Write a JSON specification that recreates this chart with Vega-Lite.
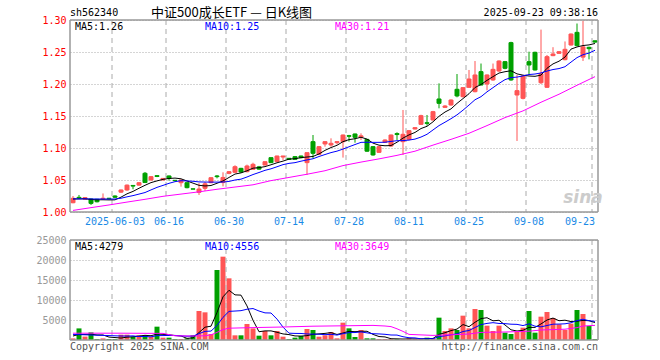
{
"$schema":"https://vega.github.io/schema/vega-lite/v6.json",
"width":528,"height":320,
"autosize":{"type":"none"},
"padding":{"left":70,"top":20,"right":62,"bottom":20},
"background":"white",
"config":{"view":{"stroke":null},"font":"DejaVu Sans Mono","text":{"font":"DejaVu Sans Mono","fontSize":10}},
"datasets":{"k":[
{"d":"2025-05-22","o":1.0145,"h":1.025,"l":1.0136,"c":1.0214,"v":400,"ma5":1.0203,"ma10":1.0205,"ma30":1.0025,"vma5":1000,"vma10":1400,"vma30":1700},
{"d":"2025-05-23","o":1.0229,"h":1.0266,"l":1.0208,"c":1.0219,"v":2900,"ma5":1.0205,"ma10":1.0205,"vma5":1400,"vma10":1350},
{"d":"2025-05-26","o":1.02,"h":1.023,"l":1.019,"c":1.0225,"v":850,"ma5":1.0207,"ma10":1.0205,"vma5":1400,"vma10":1300},
{"d":"2025-05-27","o":1.0203,"h":1.021,"l":1.011,"c":1.0135,"v":1900,"ma5":1.0195,"ma10":1.0204,"ma30":1.0068,"vma5":1450,"vma10":1250},
{"d":"2025-05-28","o":1.0198,"h":1.0205,"l":1.015,"c":1.016,"v":250,"ma5":1.0191,"ma10":1.0203,"vma5":1260,"vma10":1200},
{"d":"2025-05-29","o":1.0205,"h":1.029,"l":1.02,"c":1.0215,"v":400,"ma5":1.0191,"ma10":1.0203,"vma5":1260,"vma10":1150},
{"d":"2025-05-30","o":1.0215,"h":1.022,"l":1.02,"c":1.0208,"v":250,"ma5":1.0189,"ma10":1.0202,"ma30":1.011,"vma5":730,"vma10":1100},
{"d":"2025-06-03","o":1.025,"h":1.026,"l":1.022,"c":1.023,"v":250,"ma5":1.019,"ma10":1.0203,"vma5":610,"vma10":1050},
{"d":"2025-06-04","o":1.031,"h":1.035,"l":1.03,"c":1.0344,"v":1333,"ma5":1.0232,"ma10":1.0215,"vma5":497,"vma10":1000,"vma30":1700},
{"d":"2025-06-05","o":1.0344,"h":1.043,"l":1.033,"c":1.042,"v":1333,"ma5":1.0284,"ma10":1.0237,"ma30":1.0155,"vma5":713,"vma10":987},
{"d":"2025-06-06","o":1.0415,"h":1.0422,"l":1.0355,"c":1.0405,"v":833,"ma5":1.0322,"ma10":1.0256,"vma5":800,"vma10":1030},
{"d":"2025-06-09","o":1.042,"h":1.0465,"l":1.041,"c":1.0458,"v":1167,"ma5":1.0371,"ma10":1.028,"vma5":983,"vma10":857},
{"d":"2025-06-10","o":1.0605,"h":1.0625,"l":1.0455,"c":1.046,"v":1167,"ma5":1.0417,"ma10":1.0304,"ma30":1.0198,"vma5":1167,"vma10":888},
{"d":"2025-06-11","o":1.05,"h":1.056,"l":1.049,"c":1.0552,"v":833,"ma5":1.0459,"ma10":1.0345,"vma5":1067,"vma10":782},
{"d":"2025-06-12","o":1.0568,"h":1.0575,"l":1.0545,"c":1.0555,"v":3333,"ma5":1.0486,"ma10":1.0385,"vma5":1467,"vma10":1090},
{"d":"2025-06-13","o":1.05,"h":1.053,"l":1.0495,"c":1.0525,"v":583,"ma5":1.051,"ma10":1.0416,"ma30":1.0245,"vma5":1417,"vma10":1108,"vma30":1650},
{"d":"2025-06-16","o":1.0563,"h":1.057,"l":1.049,"c":1.0526,"v":583,"ma5":1.0524,"ma10":1.0448,"vma5":1300,"vma10":1142},
{"d":"2025-06-17","o":1.0495,"h":1.05,"l":1.048,"c":1.049,"v":250,"ma5":1.053,"ma10":1.0474,"vma5":1116,"vma10":1142,"vma30":1050},
{"d":"2025-06-18","o":1.0458,"h":1.0505,"l":1.0396,"c":1.05,"v":250,"ma5":1.0519,"ma10":1.0489,"ma30":1.028,"vma5":1000,"vma10":1033},
{"d":"2025-06-19","o":1.0458,"h":1.046,"l":1.037,"c":1.038,"v":417,"ma5":1.0484,"ma10":1.0485,"vma5":417,"vma10":942},
{"d":"2025-06-20","o":1.0362,"h":1.0365,"l":1.0355,"c":1.0357,"v":1167,"ma5":1.0451,"ma10":1.048,"vma5":533,"vma10":975,"vma30":1000},
{"d":"2025-06-23","o":1.0307,"h":1.045,"l":1.0266,"c":1.0359,"v":7250,"ma5":1.0417,"ma10":1.047,"ma30":1.0315,"vma5":1867,"vma10":1583},
{"d":"2025-06-24","o":1.037,"h":1.047,"l":1.033,"c":1.044,"v":6917,"ma5":1.0407,"ma10":1.0468,"vma5":3200,"vma10":2158,"vma30":1050},
{"d":"2025-06-25","o":1.0458,"h":1.054,"l":1.045,"c":1.0536,"v":1500,"ma5":1.0414,"ma10":1.0467,"vma5":3450,"vma10":2225,"vma30":1300},
{"d":"2025-06-26","o":1.0563,"h":1.0578,"l":1.0526,"c":1.0552,"v":17500,"ma5":1.0449,"ma10":1.0467,"ma30":1.0355,"vma5":6867,"vma10":3642,"vma30":1900},
{"d":"2025-06-27","o":1.046,"h":1.062,"l":1.04,"c":1.054,"v":20833,"ma5":1.0485,"ma10":1.0468,"vma5":10800,"vma10":5667,"vma30":2600},
{"d":"2025-06-30","o":1.0604,"h":1.064,"l":1.059,"c":1.063,"v":15417,"ma5":1.054,"ma10":1.0478,"vma5":12433,"vma10":7150,"vma30":2950},
{"d":"2025-07-01","o":1.062,"h":1.073,"l":1.0615,"c":1.0708,"v":1167,"ma5":1.0593,"ma10":1.05,"ma30":1.039,"vma5":11283,"vma10":7242},
{"d":"2025-07-02","o":1.0682,"h":1.069,"l":1.061,"c":1.0625,"v":1167,"ma5":1.0611,"ma10":1.0513,"vma5":11217,"vma10":7334},
{"d":"2025-07-03","o":1.063,"h":1.074,"l":1.062,"c":1.0719,"v":4000,"ma5":1.0644,"ma10":1.0547,"vma5":8517,"vma10":7692},
{"d":"2025-07-04","o":1.0667,"h":1.077,"l":1.066,"c":1.0745,"v":2900,"ma5":1.0685,"ma10":1.0585,"ma30":1.0425,"vma5":4930,"vma10":7865,"vma30":3100},
{"d":"2025-07-07","o":1.0705,"h":1.072,"l":1.066,"c":1.067,"v":1083,"ma5":1.0693,"ma10":1.0617,"vma5":2063,"vma10":7248},
{"d":"2025-07-08","o":1.0734,"h":1.079,"l":1.073,"c":1.0786,"v":2250,"ma5":1.0709,"ma10":1.0651,"vma5":2280,"vma10":6782},
{"d":"2025-07-09","o":1.0849,"h":1.085,"l":1.0765,"c":1.0771,"v":1167,"ma5":1.0738,"ma10":1.0675,"ma30":1.049,"vma5":2280,"vma10":6748},
{"d":"2025-07-10","o":1.0786,"h":1.088,"l":1.078,"c":1.0875,"v":2250,"ma5":1.0769,"ma10":1.0707,"vma5":1930,"vma10":5223},
{"d":"2025-07-11","o":1.0859,"h":1.0878,"l":1.0813,"c":1.0875,"v":833,"ma5":1.0795,"ma10":1.074,"vma5":1517,"vma10":3223,"vma30":3250},
{"d":"2025-07-14","o":1.0839,"h":1.084,"l":1.082,"c":1.0823,"v":250,"ma5":1.0826,"ma10":1.076,"ma30":1.054,"vma5":1350,"vma10":1707},
{"d":"2025-07-15","o":1.0865,"h":1.087,"l":1.082,"c":1.0823,"v":583,"ma5":1.0833,"ma10":1.0771,"vma5":1017,"vma10":1648},
{"d":"2025-07-16","o":1.0875,"h":1.088,"l":1.084,"c":1.0849,"v":1000,"ma5":1.0849,"ma10":1.0794,"vma5":983,"vma10":1632},
{"d":"2025-07-17","o":1.0771,"h":1.093,"l":1.0578,"c":1.0927,"v":2750,"ma5":1.0859,"ma10":1.0814,"ma30":1.059,"vma5":1083,"vma10":1507},
{"d":"2025-07-18","o":1.1099,"h":1.1203,"l":1.0839,"c":1.0917,"v":2500,"ma5":1.0868,"ma10":1.0832,"vma5":1417,"vma10":1467,"vma30":3450},
{"d":"2025-07-21","o":1.0901,"h":1.103,"l":1.089,"c":1.1021,"v":833,"ma5":1.0907,"ma10":1.0867,"vma5":1533,"vma10":1442},
{"d":"2025-07-22","o":1.1063,"h":1.1109,"l":1.1021,"c":1.1099,"v":1167,"ma5":1.0963,"ma10":1.0898,"ma30":1.0645,"vma5":1650,"vma10":1333},
{"d":"2025-07-23","o":1.1047,"h":1.1151,"l":1.1021,"c":1.1073,"v":2000,"ma5":1.1007,"ma10":1.0928,"vma5":1850,"vma10":1417},
{"d":"2025-07-24","o":1.1083,"h":1.1109,"l":1.1057,"c":1.1099,"v":417,"ma5":1.1042,"ma10":1.0951,"vma5":1383,"vma10":1233},
{"d":"2025-07-25","o":1.1099,"h":1.121,"l":1.085,"c":1.1203,"v":4333,"ma5":1.1099,"ma10":1.0983,"ma30":1.0725,"vma5":1750,"vma10":1583,"vma30":3550},
{"d":"2025-07-28","o":1.1193,"h":1.1205,"l":1.11,"c":1.1183,"v":2917,"ma5":1.1131,"ma10":1.1019,"vma5":2167,"vma10":1850},
{"d":"2025-07-29","o":1.1219,"h":1.1225,"l":1.1083,"c":1.1167,"v":750,"ma5":1.1145,"ma10":1.1054,"vma5":2083,"vma10":1867},
{"d":"2025-07-30","o":1.117,"h":1.1229,"l":1.1125,"c":1.119,"v":2500,"ma5":1.1168,"ma10":1.1088,"ma30":1.078,"vma5":2183,"vma10":2017},
{"d":"2025-07-31","o":1.1135,"h":1.114,"l":1.094,"c":1.095,"v":417,"ma5":1.1139,"ma10":1.109,"vma5":2183,"vma10":1783},
{"d":"2025-08-01","o":1.1021,"h":1.103,"l":1.088,"c":1.0891,"v":417,"ma5":1.1076,"ma10":1.1088,"vma5":1400,"vma10":1575,"vma30":3650},
{"d":"2025-08-04","o":1.0932,"h":1.103,"l":1.0925,"c":1.1021,"v":250,"ma5":1.1044,"ma10":1.1088,"ma30":1.083,"vma5":867,"vma10":1517},
{"d":"2025-08-05","o":1.1089,"h":1.1135,"l":1.108,"c":1.1125,"v":250,"ma5":1.1035,"ma10":1.109,"vma5":767,"vma10":1425,"vma30":3500},
{"d":"2025-08-06","o":1.1031,"h":1.121,"l":1.102,"c":1.1203,"v":250,"ma5":1.1038,"ma10":1.1103,"vma5":317,"vma10":1250,"vma30":3350},
{"d":"2025-08-07","o":1.1225,"h":1.1245,"l":1.1125,"c":1.121,"v":250,"ma5":1.109,"ma10":1.1114,"ma30":1.0885,"vma5":283,"vma10":1233,"vma30":2800},
{"d":"2025-08-08","o":1.1099,"h":1.1594,"l":1.0891,"c":1.1214,"v":200,"ma5":1.1155,"ma10":1.1115,"vma5":240,"vma10":820,"vma30":2150},
{"d":"2025-08-11","o":1.1135,"h":1.128,"l":1.112,"c":1.1271,"v":417,"ma5":1.1205,"ma10":1.1124,"vma5":273,"vma10":570,"vma30":1400},
{"d":"2025-08-12","o":1.1297,"h":1.132,"l":1.129,"c":1.1318,"v":250,"ma5":1.1243,"ma10":1.1139,"ma30":1.095,"vma5":273,"vma10":520},
{"d":"2025-08-13","o":1.137,"h":1.152,"l":1.136,"c":1.1505,"v":250,"ma5":1.1304,"ma10":1.1171,"vma5":273,"vma10":295},
{"d":"2025-08-14","o":1.1395,"h":1.1516,"l":1.1349,"c":1.1385,"v":583,"ma5":1.1339,"ma10":1.1214,"vma5":340,"vma10":312},
{"d":"2025-08-15","o":1.1438,"h":1.158,"l":1.143,"c":1.1568,"v":417,"ma5":1.1409,"ma10":1.1282,"ma30":1.1045,"vma5":383,"vma10":312,"vma30":1150},
{"d":"2025-08-18","o":1.1766,"h":1.201,"l":1.162,"c":1.1698,"v":5583,"ma5":1.1495,"ma10":1.135,"vma5":1417,"vma10":845},
{"d":"2025-08-19","o":1.1635,"h":1.167,"l":1.1625,"c":1.1656,"v":2250,"ma5":1.1562,"ma10":1.1403,"vma5":1817,"vma10":1045},
{"d":"2025-08-20","o":1.1672,"h":1.176,"l":1.166,"c":1.175,"v":2917,"ma5":1.1611,"ma10":1.1458,"ma30":1.1135,"vma5":2350,"vma10":1312,"vma30":1300},
{"d":"2025-08-21","o":1.1917,"h":1.2156,"l":1.1792,"c":1.1813,"v":2500,"ma5":1.1697,"ma10":1.1518,"vma5":2733,"vma10":1537},
{"d":"2025-08-22","o":1.1802,"h":1.195,"l":1.179,"c":1.1943,"v":6083,"ma5":1.1772,"ma10":1.1591,"vma5":3867,"vma10":2125},
{"d":"2025-08-25","o":1.1948,"h":1.2219,"l":1.194,"c":1.2078,"v":2917,"ma5":1.1848,"ma10":1.1671,"ma30":1.123,"vma5":3333,"vma10":2375,"vma30":1500},
{"d":"2025-08-26","o":1.188,"h":1.2359,"l":1.187,"c":1.2141,"v":7750,"ma5":1.1945,"ma10":1.1754,"vma5":4433,"vma10":3125,"vma30":1700},
{"d":"2025-08-27","o":1.2193,"h":1.232,"l":1.198,"c":1.1984,"v":7500,"ma5":1.1992,"ma10":1.1802,"vma5":5350,"vma10":3850,"vma30":1900},
{"d":"2025-08-28","o":1.2,"h":1.215,"l":1.19,"c":1.2141,"v":3583,"ma5":1.2057,"ma10":1.1877,"ma30":1.135,"vma5":5567,"vma10":4150},
{"d":"2025-08-29","o":1.2063,"h":1.232,"l":1.205,"c":1.2229,"v":2250,"ma5":1.2115,"ma10":1.1943,"vma5":4800,"vma10":4333},
{"d":"2025-09-01","o":1.2203,"h":1.237,"l":1.219,"c":1.2359,"v":3583,"ma5":1.2171,"ma10":1.2009,"vma5":4933,"vma10":4133},
{"d":"2025-09-02","o":1.2349,"h":1.236,"l":1.223,"c":1.2245,"v":1833,"ma5":1.2192,"ma10":1.2068,"ma30":1.1475,"vma5":3750,"vma10":4092,"vma30":2000},
{"d":"2025-09-03","o":1.2646,"h":1.266,"l":1.205,"c":1.2063,"v":1500,"ma5":1.2207,"ma10":1.21,"vma5":2550,"vma10":3950},
{"d":"2025-09-04","o":1.1828,"h":1.2141,"l":1.111,"c":1.1896,"v":2083,"ma5":1.2158,"ma10":1.2108,"vma5":2250,"vma10":3908},
{"d":"2025-09-05","o":1.1776,"h":1.213,"l":1.176,"c":1.2125,"v":3083,"ma5":1.2138,"ma10":1.2126,"ma30":1.158,"vma5":2416,"vma10":3608},
{"d":"2025-09-08","o":1.2349,"h":1.2505,"l":1.2146,"c":1.2297,"v":7250,"ma5":1.2125,"ma10":1.2148,"vma5":3150,"vma10":4042,"vma30":2200},
{"d":"2025-09-09","o":1.2495,"h":1.2505,"l":1.221,"c":1.2219,"v":1833,"ma5":1.212,"ma10":1.2156,"vma5":3150,"vma10":3450},
{"d":"2025-09-10","o":1.202,"h":1.285,"l":1.2,"c":1.216,"v":5833,"ma5":1.2139,"ma10":1.2173,"ma30":1.1715,"vma5":4016,"vma10":3283,"vma30":2500},
{"d":"2025-09-11","o":1.1948,"h":1.2453,"l":1.194,"c":1.2427,"v":7000,"ma5":1.2246,"ma10":1.2202,"vma5":5000,"vma10":3625},
{"d":"2025-09-12","o":1.2443,"h":1.2575,"l":1.2435,"c":1.2469,"v":5500,"ma5":1.2314,"ma10":1.2226,"vma5":5483,"vma10":3950},
{"d":"2025-09-15","o":1.2479,"h":1.251,"l":1.2475,"c":1.2505,"v":3917,"ma5":1.2356,"ma10":1.2241,"ma30":1.184,"vma5":4817,"vma10":3983},
{"d":"2025-09-16","o":1.238,"h":1.2665,"l":1.237,"c":1.2542,"v":2500,"ma5":1.2421,"ma10":1.227,"vma5":4950,"vma10":4050,"vma30":2700},
{"d":"2025-09-17","o":1.2609,"h":1.279,"l":1.26,"c":1.2781,"v":4083,"ma5":1.2545,"ma10":1.2342,"vma5":4600,"vma10":4308},
{"d":"2025-09-18","o":1.2807,"h":1.2945,"l":1.259,"c":1.2599,"v":7500,"ma5":1.2579,"ma10":1.2412,"ma30":1.198,"vma5":4700,"vma10":4850,"vma30":3100},
{"d":"2025-09-19","o":1.242,"h":1.299,"l":1.236,"c":1.258,"v":6500,"ma5":1.2601,"ma10":1.2458,"vma5":4900,"vma10":5192,"vma30":3500},
{"d":"2025-09-22","o":1.2573,"h":1.2583,"l":1.2385,"c":1.2552,"v":3500,"ma5":1.2611,"ma10":1.2483,"vma5":4817,"vma10":4817},
{"d":"2025-09-23","o":1.2675,"h":1.268,"l":1.2645,"c":1.2655,"v":250,"ma5":1.2633,"ma10":1.2527,"ma30":1.2115,"vma5":4367,"vma10":4658,"vma30":3650}
]},
"data":{"name":"k"},
"layer":[
{"layer":[
 {"mark":{"type":"rule","strokeWidth":1},
  "encoding":{
   "x":{"field":"d","type":"ordinal","scale":{"type":"band","paddingInner":0,"paddingOuter":0},
        "axis":{"orient":"bottom","offset":-128,"values":["2025-06-03","2025-06-16","2025-06-30","2025-07-14","2025-07-28","2025-08-11","2025-08-25","2025-09-08","2025-09-23"],
                "labelExpr":"datum.value == '2025-06-03' ? datum.value : slice(datum.value, 5)",
                "labelColor":"#1a8ae6","labelFont":"DejaVu Sans Mono","labelFontSize":10,"labelPadding":4,"ticks":false,"domain":false,"grid":false,"title":null,
                "bandPosition":0,"labelAngle":0,"labelOverlap":false,"labelBound":false,
                "labelAlign":{"condition":{"test":"datum.value == '2025-09-23'","value":"right"},"value":"center"}}},
   "y":{"field":"l","type":"quantitative","scale":{"domain":[1.0,1.3],"range":[192,0],"zero":false,"nice":false},
        "axis":{"orient":"left","values":[1.0,1.05,1.1,1.15,1.2,1.25,1.3],"format":".2f","labelColor":"#ff0000","labelFont":"DejaVu Sans Mono","labelFontSize":10,"labelPadding":4,
                "ticks":false,"domain":false,"title":null,"grid":true,"gridColor":"#aaaaaa","gridDash":[1,2],"gridWidth":1,"labelBound":false,"labelOverlap":false,"labelFlush":false}},
   "y2":{"field":"h"},
   "color":{"condition":{"test":"datum.c >= datum.o","value":"#ff5555"},"value":"#00a000"}}},
 {"transform":[{"filter":{"field":"d","oneOf":["2025-06-03","2025-06-16","2025-06-30","2025-07-14","2025-07-28","2025-08-11","2025-08-25","2025-09-08","2025-09-23"]}}],
  "mark":{"type":"rule","color":"#aaaaaa","strokeDash":[5,4],"strokeWidth":1},
  "encoding":{"x":{"field":"d","type":"ordinal","bandPosition":0},"y":{"datum":1.3,"type":"quantitative"},"y2":{"datum":1.0}}},
 {"mark":{"type":"bar","width":4,"strokeWidth":1},
  "encoding":{"x":{"field":"d","type":"ordinal"},"y":{"field":"o","type":"quantitative"},"y2":{"field":"c"},
   "fill":{"condition":{"test":"datum.c >= datum.o","value":"#ff5555"},"value":"#00a000"},
   "stroke":{"condition":{"test":"datum.c >= datum.o","value":"#ff5555"},"value":"#00a000"}}},
 {"mark":{"type":"line","color":"#000000","strokeWidth":1},"encoding":{"x":{"field":"d","type":"ordinal"},"y":{"field":"ma5","type":"quantitative"}}},
 {"mark":{"type":"line","color":"#0000ff","strokeWidth":1},"encoding":{"x":{"field":"d","type":"ordinal"},"y":{"field":"ma10","type":"quantitative"}}},
 {"transform":[{"filter":"isValid(datum.ma30)"}],"mark":{"type":"line","color":"#ff00ff","strokeWidth":1},"encoding":{"x":{"field":"d","type":"ordinal"},"y":{"field":"ma30","type":"quantitative"}}},
 {"data":{"values":[{}]},"mark":{"type":"rule","color":"#999999","strokeWidth":1.5},"encoding":{"y":{"datum":1.3,"type":"quantitative"}}},
 {"data":{"values":[{}]},"mark":{"type":"rule","color":"#999999","strokeWidth":1.5},"encoding":{"y":{"datum":1.0,"type":"quantitative"}}},
 {"transform":[{"filter":{"field":"d","equal":"2025-05-22"}}],"mark":{"type":"rule","color":"#999999","strokeWidth":1.5},
  "encoding":{"x":{"field":"d","type":"ordinal","bandPosition":0},"y":{"datum":1.3,"type":"quantitative"},"y2":{"datum":1.0}}},
 {"transform":[{"filter":{"field":"d","equal":"2025-09-23"}}],"mark":{"type":"rule","color":"#999999","strokeWidth":1.5},
  "encoding":{"x":{"field":"d","type":"ordinal","bandPosition":1},"y":{"datum":1.3,"type":"quantitative"},"y2":{"datum":1.0}}},
 {"data":{"values":[{}]},"mark":{"type":"text","text":"sh562340","align":"left","baseline":"middle","dx":-3,"dy":-7.5,"fontSize":10,"color":"#000000"},
  "encoding":{"x":{"datum":"2025-05-22","type":"ordinal"},"y":{"datum":1.3,"type":"quantitative"}}},
 {"data":{"values":[{}]},"mark":{"type":"text","text":"中证500成长ETF — 日K线图","align":"left","baseline":"middle","dx":0,"dy":-7.5,"font":"Noto Sans CJK SC","fontSize":13,"color":"#000000"},
  "encoding":{"x":{"datum":"2025-06-11","type":"ordinal"},"y":{"datum":1.3,"type":"quantitative"}}},
 {"data":{"values":[{}]},"mark":{"type":"text","text":"2025-09-23 09:38:16","align":"right","baseline":"middle","dx":3,"dy":-7.5,"fontSize":10,"color":"#000000"},
  "encoding":{"x":{"datum":"2025-09-23","type":"ordinal"},"y":{"datum":1.3,"type":"quantitative"}}},
 {"data":{"values":[{}]},"mark":{"type":"text","text":"MA5:1.26","align":"left","baseline":"middle","dx":2,"dy":6.5,"fontSize":10,"color":"#000000"},
  "encoding":{"x":{"datum":"2025-05-22","type":"ordinal"},"y":{"datum":1.3,"type":"quantitative"}}},
 {"data":{"values":[{}]},"mark":{"type":"text","text":"MA10:1.25","align":"left","baseline":"middle","dx":0,"dy":6.5,"fontSize":10,"color":"#0000ff"},
  "encoding":{"x":{"datum":"2025-06-24","type":"ordinal"},"y":{"datum":1.3,"type":"quantitative"}}},
 {"data":{"values":[{}]},"mark":{"type":"text","text":"MA30:1.21","align":"left","baseline":"middle","dx":-2,"dy":6.5,"fontSize":10,"color":"#ff00ff"},
  "encoding":{"x":{"datum":"2025-07-24","type":"ordinal"},"y":{"datum":1.3,"type":"quantitative"}}},
 {"data":{"values":[{}]},"mark":{"type":"text","text":"sina","align":"center","baseline":"alphabetic","font":"DejaVu Sans","fontSize":17,"fontWeight":"bold","fontStyle":"italic","color":"#cccccc"},
  "encoding":{"x":{"datum":"2025-09-19","type":"ordinal"},"y":{"datum":1.014,"type":"quantitative"}}}
]},
{"layer":[
 {"mark":{"type":"bar","width":5},
  "encoding":{"x":{"field":"d","type":"ordinal"},
   "y":{"field":"v","type":"quantitative","scale":{"domain":[0,25000],"range":[320,220],"nice":false},
        "axis":{"orient":"left","values":[5000,10000,15000,20000,25000],"format":"d","labelColor":"#999999","labelFont":"DejaVu Sans Mono","labelFontSize":10,"labelPadding":4,
                "ticks":false,"domain":false,"title":null,"grid":true,"gridColor":"#aaaaaa","gridDash":[1,2],"gridWidth":1,"labelBound":false,"labelOverlap":false,"labelFlush":false}},
   "fill":{"condition":{"test":"datum.c >= datum.o","value":"#ff5555"},"value":"#00a000"}}},
 {"transform":[{"filter":{"field":"d","oneOf":["2025-06-03","2025-06-16","2025-06-30","2025-07-14","2025-07-28","2025-08-11","2025-08-25","2025-09-08","2025-09-23"]}}],
  "mark":{"type":"rule","color":"#aaaaaa","strokeDash":[5,4],"strokeWidth":1},
  "encoding":{"x":{"field":"d","type":"ordinal","bandPosition":0},"y":{"datum":25000,"type":"quantitative"},"y2":{"datum":0}}},
 {"mark":{"type":"line","color":"#000000","strokeWidth":1},"encoding":{"x":{"field":"d","type":"ordinal"},"y":{"field":"vma5","type":"quantitative"}}},
 {"mark":{"type":"line","color":"#0000ff","strokeWidth":1},"encoding":{"x":{"field":"d","type":"ordinal"},"y":{"field":"vma10","type":"quantitative"}}},
 {"transform":[{"filter":"isValid(datum.vma30)"}],"mark":{"type":"line","color":"#ff00ff","strokeWidth":1},"encoding":{"x":{"field":"d","type":"ordinal"},"y":{"field":"vma30","type":"quantitative"}}},
 {"data":{"values":[{}]},"mark":{"type":"rule","color":"#999999","strokeWidth":1.5},"encoding":{"y":{"datum":25000,"type":"quantitative"}}},
 {"data":{"values":[{}]},"mark":{"type":"rule","color":"#999999","strokeWidth":1.5},"encoding":{"y":{"datum":0,"type":"quantitative"}}},
 {"transform":[{"filter":{"field":"d","equal":"2025-05-22"}}],"mark":{"type":"rule","color":"#999999","strokeWidth":1.5},
  "encoding":{"x":{"field":"d","type":"ordinal","bandPosition":0},"y":{"datum":25000,"type":"quantitative"},"y2":{"datum":0}}},
 {"transform":[{"filter":{"field":"d","equal":"2025-09-23"}}],"mark":{"type":"rule","color":"#999999","strokeWidth":1.5},
  "encoding":{"x":{"field":"d","type":"ordinal","bandPosition":1},"y":{"datum":25000,"type":"quantitative"},"y2":{"datum":0}}},
 {"data":{"values":[{}]},"mark":{"type":"text","text":"MA5:4279","align":"left","baseline":"middle","dx":2,"dy":7,"fontSize":10,"color":"#000000"},
  "encoding":{"x":{"datum":"2025-05-22","type":"ordinal"},"y":{"datum":25000,"type":"quantitative"}}},
 {"data":{"values":[{}]},"mark":{"type":"text","text":"MA10:4556","align":"left","baseline":"middle","dx":0,"dy":7,"fontSize":10,"color":"#0000ff"},
  "encoding":{"x":{"datum":"2025-06-24","type":"ordinal"},"y":{"datum":25000,"type":"quantitative"}}},
 {"data":{"values":[{}]},"mark":{"type":"text","text":"MA30:3649","align":"left","baseline":"middle","dx":-2,"dy":7,"fontSize":10,"color":"#ff00ff"},
  "encoding":{"x":{"datum":"2025-07-24","type":"ordinal"},"y":{"datum":25000,"type":"quantitative"}}},
 {"data":{"values":[{}]},"mark":{"type":"text","text":"Copyright 2025 SINA.COM","align":"left","baseline":"middle","dx":-3,"dy":6.5,"fontSize":10,"color":"#555555"},
  "encoding":{"x":{"datum":"2025-05-22","type":"ordinal"},"y":{"datum":0,"type":"quantitative"}}},
 {"data":{"values":[{}]},"mark":{"type":"text","text":"http://finance.sina.com.cn","align":"right","baseline":"middle","dx":3,"dy":6.5,"fontSize":10,"color":"#555555"},
  "encoding":{"x":{"datum":"2025-09-23","type":"ordinal"},"y":{"datum":0,"type":"quantitative"}}}
]}
],
"resolve":{"scale":{"y":"independent"},"axis":{"y":"independent"}}
}
